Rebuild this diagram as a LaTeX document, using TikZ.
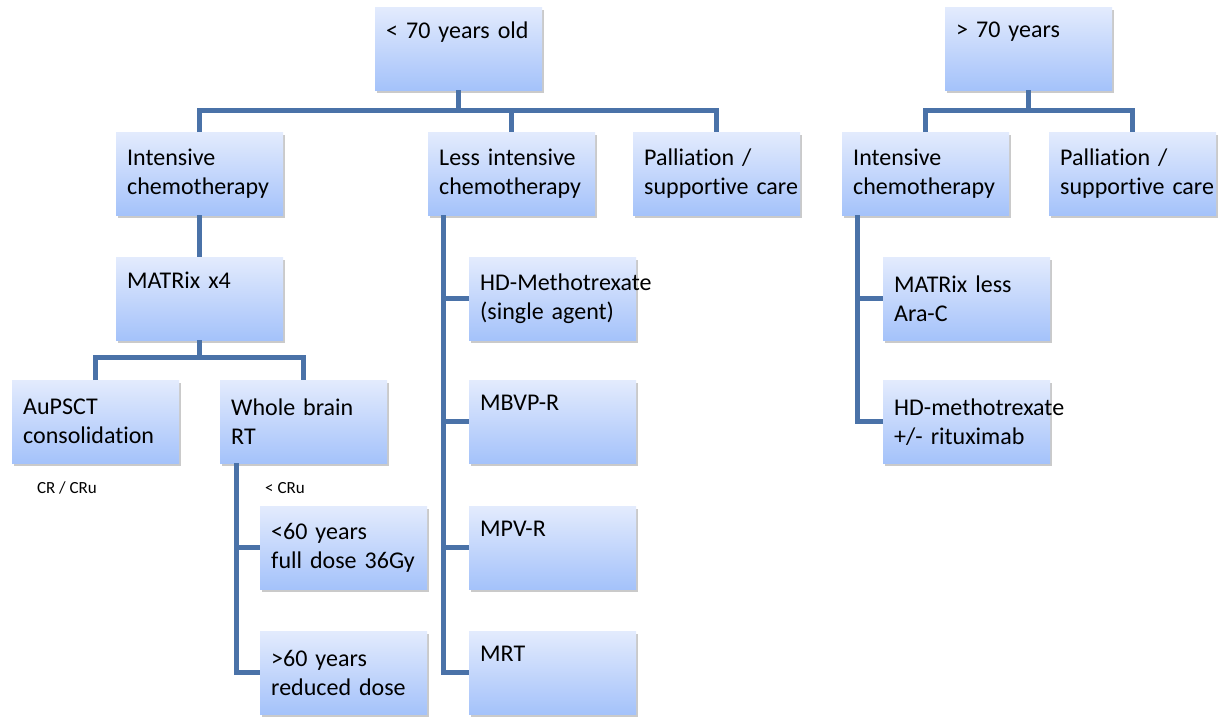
\documentclass[tikz,border=0pt]{standalone}
\usepackage{fontspec}
\setmainfont[Ligatures={NoCommon}]{Carlito}
\usetikzlibrary{shadows}
\definecolor{boxtop}{HTML}{E3EBFD}
\definecolor{boxbot}{HTML}{A4C2FA}
\definecolor{conncol}{HTML}{4A72A8}
\begin{document}
\begin{tikzpicture}[x=1pt,y=-1pt,
  box/.style={top color=boxtop, bottom color=boxbot, minimum width=167pt, minimum height=83pt,
    text width=145pt, inner xsep=11pt, inner ysep=0pt, align=left, anchor=north west,
    font=\fontsize{24}{29}\selectfont,
    drop shadow={shadow xshift=2pt, shadow yshift=-3pt, opacity=0.35, fill=black!60}},
  conn/.style={draw=conncol, line width=5pt},
  lbl/.style={font=\fontsize{17}{20}\selectfont, inner sep=0pt}]
\useasboundingbox (0,0) rectangle (1224,717);
% level 0
\node[box] (old) at (375,7) {< 70 years old\\\strut};
\node[box] (eld) at (945,7) {> 70 years\\\strut};
% level 1
\node[box] (ic) at (116,132) {Intensive\\chemotherapy};
\node[box] (li) at (428,132) {Less intensive\\chemotherapy};
\node[box] (pal) at (633,132) {Palliation /\\\mbox{supportive care}};
\node[box] (ictwo) at (842,132) {Intensive\\chemotherapy};
\node[box] (paltwo) at (1049,132) {Palliation /\\\mbox{supportive care}};
% level 2
\node[box] (matrix) at (116,257) {MATRix x4\\\strut};
\node[box] (hdm) at (469,257) {\mbox{HD-Methotrexate}\\(single agent)};
\node[box] (mless) at (883,257) {MATRix less\\Ara-C};
% level 3
\node[box] (aupsct) at (12,380) {AuPSCT\\consolidation};
\node[box] (wb) at (220,380) {Whole brain\\RT};
\node[box] (mbvp) at (469,380) {MBVP-R\\\strut};
\node[box] (hdr) at (883,380) {\mbox{HD-methotrexate}\\+/- rituximab};
% level 4
\node[box] (lt60) at (260,506) {<60 years\\full dose 36Gy};
\node[box] (mpv) at (469,506) {MPV-R\\\strut};
% level 5
\node[box] (gt60) at (260,631) {>60 years\\reduced dose};
\node[box] (mrt) at (469,631) {MRT\\\strut};
% labels
\node[lbl] (crcru) at (67,488) {CR / CRu};
\node[lbl] (ltcru) at (285,488) {< CRu};
% connectors
\draw[conn] (old.south) -- ++(0,20) coordinate (oj);
\draw[conn] (ic.north) |- (oj) -| (pal.north);
\draw[conn] (oj) -| (li.north);
\draw[conn] (eld.south) -- ++(0,20) coordinate (ej);
\draw[conn] (ictwo.north) |- (ej) -| (paltwo.north);
\draw[conn] (ic.south) -- (matrix.north);
\draw[conn] (matrix.south) -- ++(0,17) coordinate (mj);
\draw[conn] (aupsct.north) |- (mj) -| (wb.north);
\draw[conn] ([xshift=15pt]li.south west) |- (mrt.west);
\draw[conn] ([xshift=15pt]li.south west) |- (hdm.west);
\draw[conn] ([xshift=15pt]li.south west) |- (mbvp.west);
\draw[conn] ([xshift=15pt]li.south west) |- (mpv.west);
\draw[conn] ([xshift=15pt]ictwo.south west) |- (hdr.west);
\draw[conn] ([xshift=15pt]ictwo.south west) |- (mless.west);
\draw[conn] ([xshift=16pt]wb.south west) |- (gt60.west);
\draw[conn] ([xshift=16pt]wb.south west) |- (lt60.west);
\end{tikzpicture}
\end{document}
